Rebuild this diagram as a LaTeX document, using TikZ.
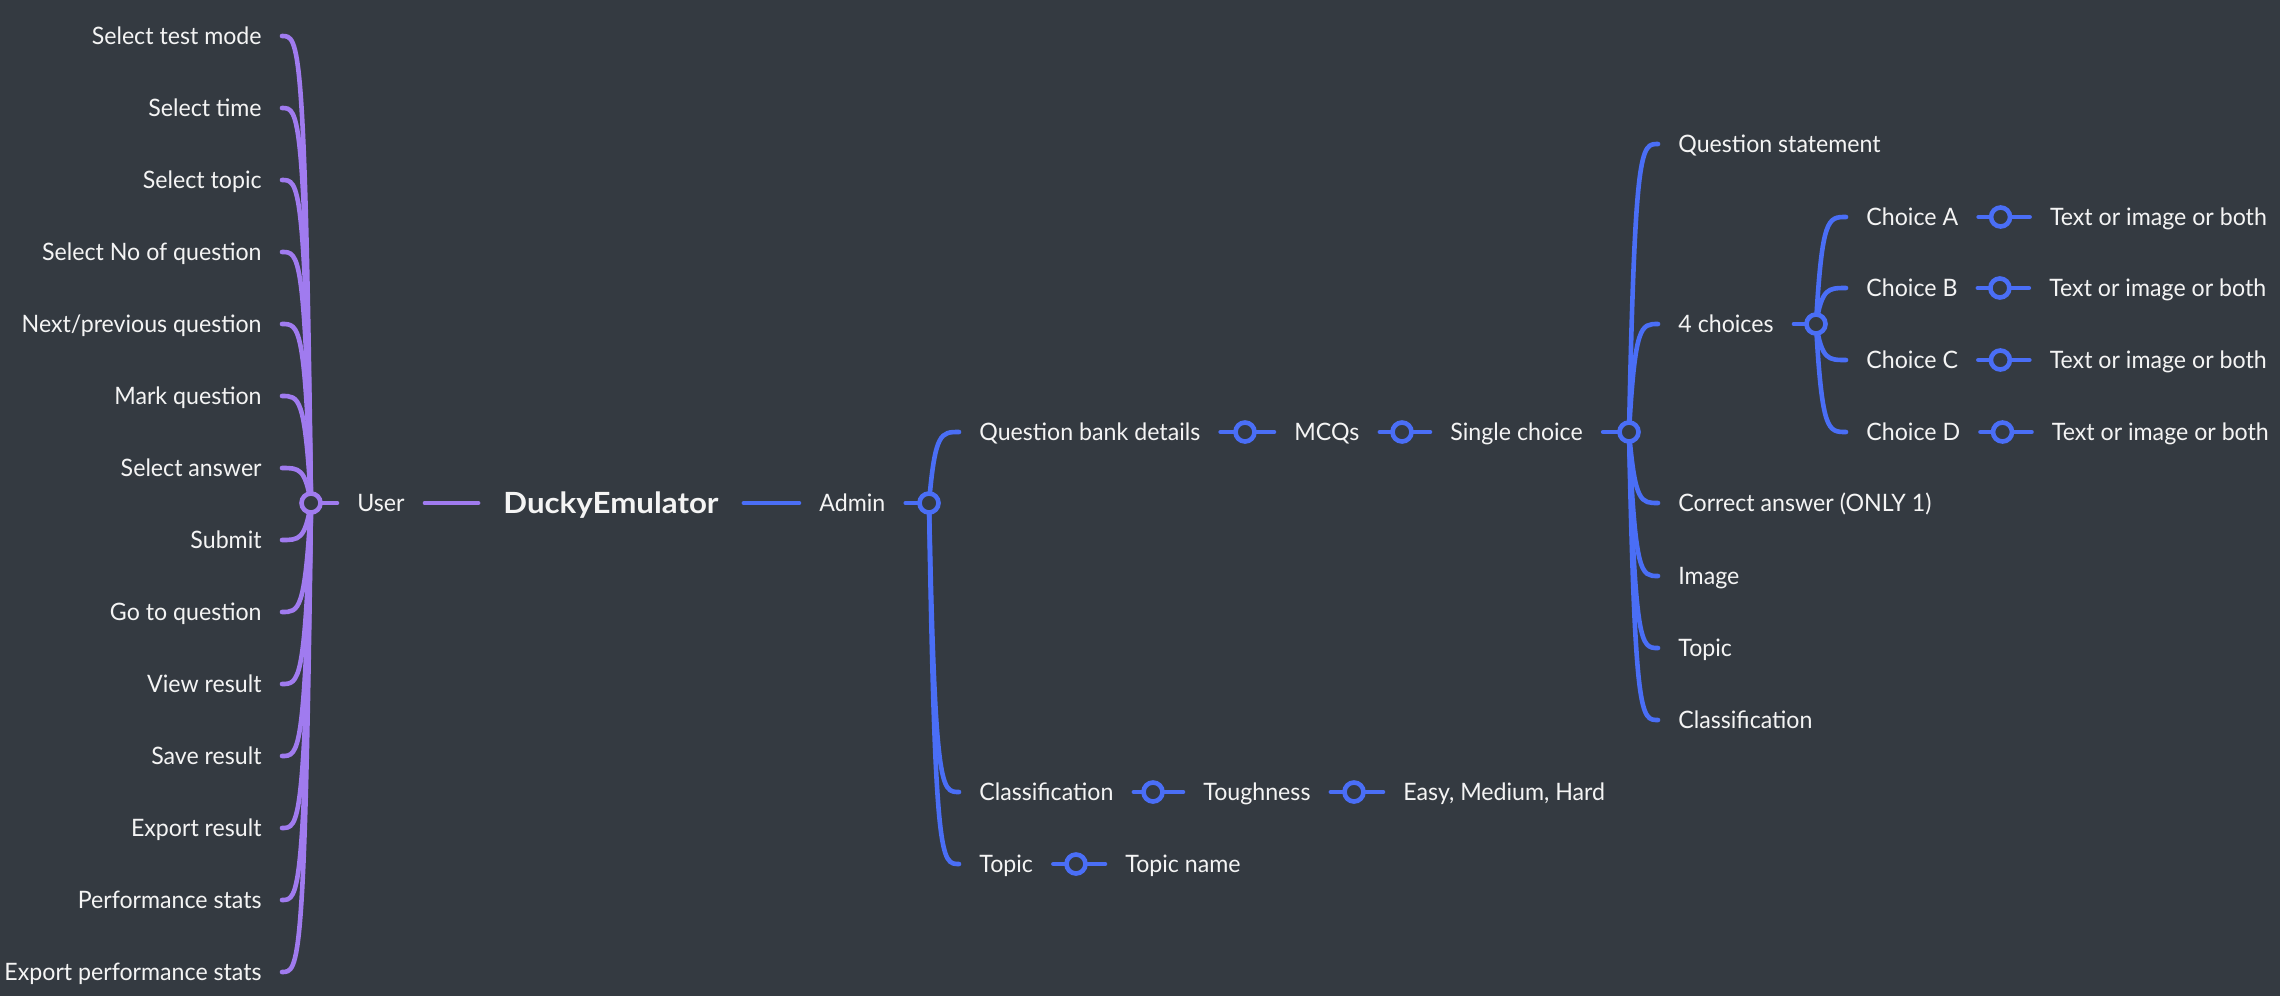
\documentclass[tikz,border=0pt]{standalone}
\usepackage{fontspec}
\setmainfont{Lato}[FakeStretch=0.965]
\newfontfamily\duckfont{Lato}[FakeStretch=1.07]
\usetikzlibrary{calc,backgrounds}
\definecolor{bg}{HTML}{343A41}
\definecolor{pur}{HTML}{A07BEF}
\definecolor{blu}{HTML}{4A6EF6}
\definecolor{txt}{HTML}{F4F4F4}
\newcommand\lbr[2]{\draw[pl] let \p1=(#1.center), \p2=(#2.east) in (\p1) .. controls (\x1-3pt,\y2) and (\x1-6pt,\y2) .. (\p2);}
\newcommand\rbr[2]{\draw[bl] let \p1=(#1.center), \p2=(#2.west) in (\p1) .. controls (\x1+3pt,\y2) and (\x1+6pt,\y2) .. (\p2);}
\begin{document}
\begin{tikzpicture}[x=0.5pt,y=-0.5pt,
  lbl/.style={text=txt, font=\fontsize{12}{14}\selectfont, inner xsep=10pt, inner ysep=0pt, text height=8.6pt, text depth=0pt},
  big/.style={text=txt, font=\fontsize{14.6}{16}\selectfont\duckfont\bfseries, inner xsep=12.5pt, inner ysep=0pt, text height=10.5pt, text depth=0pt},
  hubp/.style={circle, draw=pur, fill=bg, line width=2.3pt, minimum size=9.5pt, inner sep=0pt},
  hubb/.style={circle, draw=blu, fill=bg, line width=2.3pt, minimum size=9.5pt, inner sep=0pt},
  pl/.style={draw=pur, line width=2.3pt, line cap=round},
  bl/.style={draw=blu, line width=2.3pt, line cap=round}]
\useasboundingbox (0,0) rectangle (2280,996);
\begin{scope}[on background layer]
\fill[bg] (0,0) rectangle (2280,996);
\end{scope}
% centre
\node[hubp] (uh) at (311,503) {};
\node[lbl, anchor=west] (user) at (337,503) {User};
\node[big] (duck) at (611,503) {DuckyEmulator};
\node[lbl, anchor=west] (admin) at (799,503) {Admin};
\node[hubb] (ah) at (929,503) {};
% left children
\foreach \t [count=\i] in {Select test mode, Select time, Select topic, Select No of question, Next/previous question, Mark question, Select answer, Submit, Go to question, View result, Save result, Export result, Performance stats, Export performance stats}
  \node[lbl, anchor=east] (L\i) at (282,{36+72*(\i-1)}) {\t};
% admin children
\node[lbl, anchor=west] (qbd) at (959,432) {Question bank details};
\node[hubb] (qh) at (1245,432) {};
\node[lbl, anchor=west] (mcq) at (1274,432) {MCQs};
\node[hubb] (mh) at (1402,432) {};
\node[lbl, anchor=west] (sc) at (1430,432) {Single choice};
\node[hubb] (sh) at (1629,432) {};
\node[lbl, anchor=west] (cls) at (959,792) {Classification};
\node[hubb] (clh) at (1153,792) {};
\node[lbl, anchor=west] (tough) at (1183,792) {Toughness};
\node[hubb] (th) at (1354,792) {};
\node[lbl, anchor=west] (emh) at (1383,792) {Easy, Medium, Hard};
\node[lbl, anchor=west] (top) at (959,864) {Topic};
\node[hubb] (toh) at (1076,864) {};
\node[lbl, anchor=west] (topn) at (1105,864) {Topic name};
% single choice children
\node[lbl, anchor=west] (qs) at (1658,144) {Question statement};
\node[lbl, anchor=west] (fc) at (1658,324) {4 choices};
\node[hubb] (fh) at (1816,324) {};
\node[lbl, anchor=west] (ca) at (1658,503) {Correct answer (ONLY 1)};
\node[lbl, anchor=west] (img) at (1658,576) {Image};
\node[lbl, anchor=west] (stop) at (1658,648) {Topic};
\node[lbl, anchor=west] (scl) at (1658,720) {Classification};
% choices
\foreach \c/\yy in {A/217, B/288, C/360, D/432}{
  \node[lbl, anchor=west] (ch\c) at (1846,\yy) {Choice \c};
  \node[hubb] (chh\c) at ($(ch\c.east)+(22,0)$) {};
  \node[lbl, anchor=west] (tx\c) at ($(chh\c)+(29,0)$) {Text or image or both};
}
\begin{scope}[on background layer]
\foreach \i in {1,...,14} {\lbr{uh}{L\i}}
\draw[pl] (uh) -- (user);
\draw[pl] (user) -- (duck);
\draw[bl] (duck) -- (admin);
\draw[bl] (admin) -- (ah);
\rbr{ah}{qbd}
\rbr{ah}{cls}
\rbr{ah}{top}
\draw[bl] (qbd) -- (qh);
\draw[bl] (qh) -- (mcq);
\draw[bl] (mcq) -- (mh);
\draw[bl] (mh) -- (sc);
\draw[bl] (sc) -- (sh);
\draw[bl] (cls) -- (clh);
\draw[bl] (clh) -- (tough);
\draw[bl] (tough) -- (th);
\draw[bl] (th) -- (emh);
\draw[bl] (top) -- (toh);
\draw[bl] (toh) -- (topn);
\rbr{sh}{qs}
\rbr{sh}{fc}
\rbr{sh}{ca}
\rbr{sh}{img}
\rbr{sh}{stop}
\rbr{sh}{scl}
\draw[bl] (fc) -- (fh);
\foreach \c in {A,B,C,D}{
  \rbr{fh}{ch\c}
  \draw[bl] (ch\c) -- (chh\c);
  \draw[bl] (chh\c) -- (tx\c);
}
\end{scope}
\end{tikzpicture}
\end{document}
